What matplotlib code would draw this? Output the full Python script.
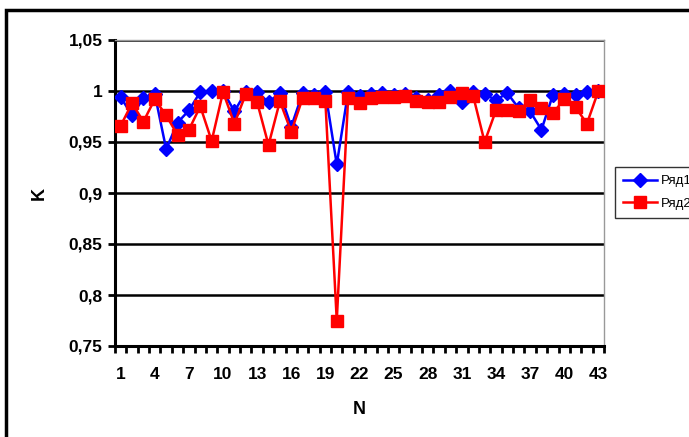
import numpy as np
import matplotlib
matplotlib.use("Agg")
import matplotlib.pyplot as plt
from matplotlib.patches import Rectangle
from matplotlib.ticker import FuncFormatter

# ---- data ----
n = list(range(1, 44))
row1 = [0.994, 0.976, 0.993, 0.997, 0.943, 0.969, 0.981, 0.999, 1.000, 1.000,
        0.980, 0.999, 0.999, 0.989, 0.998, 0.965, 0.998, 0.996, 0.999, 0.928,
        0.999, 0.995, 0.997, 0.998, 0.996, 0.997, 0.993, 0.991, 0.996, 1.000,
        0.989, 0.999, 0.997, 0.991, 0.998, 0.983, 0.980, 0.962, 0.996, 0.997,
        0.996, 0.999, 1.000]
row2 = [0.966, 0.988, 0.970, 0.992, 0.976, 0.957, 0.962, 0.985, 0.951, 0.999,
        0.968, 0.997, 0.989, 0.947, 0.990, 0.960, 0.993, 0.993, 0.990, 0.775,
        0.993, 0.988, 0.993, 0.994, 0.994, 0.995, 0.990, 0.989, 0.989, 0.994,
        0.998, 0.995, 0.950, 0.981, 0.981, 0.980, 0.991, 0.983, 0.978, 0.992,
        0.984, 0.968, 1.000]
labels = ["Ряд1", "Ряд2"]
xticks = list(range(1, 44, 3))

plt.rcParams['font.family'] = ['Liberation Sans', 'DejaVu Sans']

W, H = 689, 437
fig = plt.figure(figsize=(W / 100, H / 100), dpi=100)
ax = fig.add_axes([115 / W, 1 - 346 / H, (604 - 115) / W, (346 - 40) / H])

# outer chart border (cut off on right/bottom like the screenshot)
fig.patches.append(Rectangle((6 / W, -0.1), 1.2, 1 - 10 / H + 0.1,
                             transform=fig.transFigure, fill=False,
                             edgecolor="black", linewidth=2.5, clip_on=False))

ax.plot(n, row1, color="blue", marker="D", markersize=7.5, linewidth=1.8,
        label=labels[0], zorder=3)
ax.plot(n, row2, color="red", marker="s", markersize=8.5, linewidth=1.8,
        label=labels[1], zorder=4)

ax.set_xlim(0.5, 43.5)
ax.set_ylim(0.75, 1.05)
ax.set_xticks(xticks)
ax.set_xticks(np.arange(0.5, 44, 1), minor=True)
ax.tick_params(axis="x", which="major", length=0, pad=15)
ax.tick_params(axis="x", which="minor", length=5, width=2, direction="out")
ax.set_yticks(np.arange(0.75, 1.051, 0.05))
ax.tick_params(axis="y", length=5, width=2, direction="out", pad=4)
ax.yaxis.set_major_formatter(FuncFormatter(
    lambda v, p: ("%g" % round(v, 2)).replace(".", ",")))
for t in ax.get_xticklabels() + ax.get_yticklabels():
    t.set_fontweight("bold")
    t.set_fontsize(12.5)

ax.grid(axis="y", color="black", linewidth=1.8, zorder=1)
ax.set_axisbelow(True)
for s in ["left", "bottom"]:
    ax.spines[s].set_color("black")
    ax.spines[s].set_linewidth(2.2)
for s in ["top", "right"]:
    ax.spines[s].set_color("#999999")
    ax.spines[s].set_linewidth(1)

ax.set_xlabel("N", fontsize=13, fontweight="bold", labelpad=14)
ax.set_ylabel("K", fontsize=13, fontweight="bold", labelpad=15)

leg = fig.legend(loc="upper left", bbox_to_anchor=(615 / W, 1 - 167 / H),
                 frameon=True, fancybox=False, fontsize=9.5, borderaxespad=0,
                 handlelength=2.6, borderpad=0.6, labelspacing=0.8,
                 handletextpad=0.3)
leg.get_frame().set_edgecolor("black")
leg.get_frame().set_linewidth(1)

fig.savefig("out.png", dpi=100)
